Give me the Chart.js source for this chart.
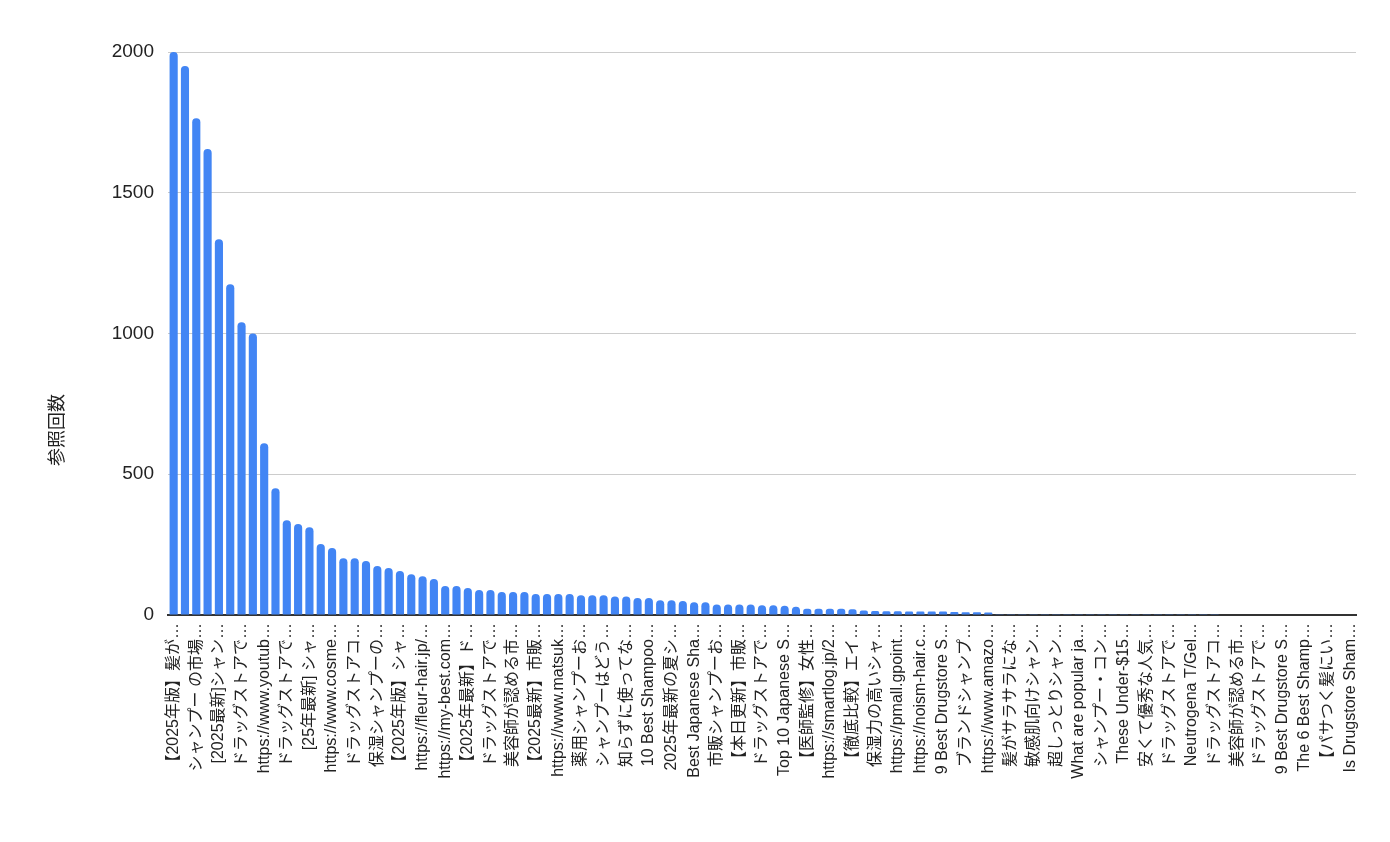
<!DOCTYPE html>
<html>
<head>
<meta charset="utf-8">
<script src="https://cdn.jsdelivr.net/npm/chart.js@4"></script>
<style>
  html, body { margin: 0; padding: 0; background: #fff; }
  #wrap { width: 1390px; height: 842px; }
</style>
</head>
<body>
<div id="wrap"><canvas id="chart"></canvas></div>
<script>
// Every second category label is shown on the axis
const shownLabels = [
  '【2025年版】髪が…', 'シャンプー の市場…', '[2025最新]シャン…', 'ドラッグストアで…',
  'https://www.youtub…', 'ドラッグストアで…', '[25年最新] シャ…', 'https://www.cosme…',
  'ドラッグストアコ…', '保湿シャンプーの…', '【2025年版】シャ…', 'https://fleur-hair.jp/…',
  'https://my-best.com…', '【2025年最新】ド…', 'ドラッグストアで…', '美容師が認める市…',
  '【2025最新】市販…', 'https://www.matsuk…', '薬用シャンプーお…', 'シャンプーはどう…',
  '知らずに使ってな…', '10 Best Shampoo…', '2025年最新の夏シ…', 'Best Japanese Sha…',
  '市販シャンプーお…', '【本日更新】市販…', 'ドラッグストアで…', 'Top 10 Japanese S…',
  '【医師監修】女性…', 'https://smartlog.jp/2…', '【徹底比較】エイ…', '保湿力の高いシャ…',
  'https://pmall.gpoint…', 'https://noism-hair.c…', '9 Best Drugstore S…', 'ブランドシャンプ…',
  'https://www.amazo…', '髪がサラサラにな…', '敏感肌向けシャン…', '超しっとりシャン…',
  'What are popular ja…', 'シャンプー・コン…', 'These Under-$15…', '安くて優秀な人気…',
  'ドラッグストアで…', 'Neutrogena T/Gel…', 'ドラッグストアコ…', '美容師が認める市…',
  'ドラッグストアで…', '9 Best Drugstore S…', 'The 6 Best Shamp…', '【パサつく髪にい…',
  'Is Drugstore Sham…'
];

const refCounts = [
  2000, 1950, 1765, 1655, 1335, 1175, 1040, 1000, 610, 450,
  337, 323, 312, 252, 238, 202, 202, 192, 174, 167,
  156, 145, 138, 128, 103, 103, 96, 89, 89, 82,
  82, 82, 75, 75, 75, 75, 70, 70, 70, 66,
  66, 60, 60, 52, 52, 50, 45, 45, 37, 37,
  37, 37, 35, 35, 33, 29, 22, 22, 22, 22,
  20, 16, 14, 13, 13, 12, 12, 12, 12, 11,
  10, 10, 9, 3, 3, 3, 3, 3, 3, 3,
  3, 3, 3, 3, 3, 3, 3, 3, 3, 3,
  3, 3, 3, 0, 0, 0, 0, 0, 0, 0,
  0, 0, 0, 0, 0
];

const yTicks = [0, 500, 1000, 1500, 2000];
const yTitle = '参照回数';

// build full label list: shown labels on even bars, blanks between
const labels = refCounts.map((v, i) => (i % 2 === 0 ? shownLabels[i / 2] || '' : ''));

// y title sits lower than the plot centre in the original
const yTitlePlugin = {
  id: 'yTitle',
  afterDraw(chart) {
    const ctx = chart.ctx;
    ctx.save();
    ctx.translate(56, 430);
    ctx.rotate(-Math.PI / 2);
    ctx.fillStyle = '#222';
    ctx.font = '18px "Noto Sans CJK JP"';
    ctx.textAlign = 'center';
    ctx.textBaseline = 'middle';
    ctx.fillText(yTitle, 0, 0);
    ctx.restore();
  }
};

new Chart(document.getElementById('chart'), {
  type: 'bar',
  data: {
    labels: labels,
    datasets: [{
      label: yTitle,
      data: refCounts,
      backgroundColor: '#4285f4',
      borderRadius: 4,
      borderSkipped: 'bottom',
      barPercentage: 0.72,
      categoryPercentage: 1.0
    }]
  },
  plugins: [yTitlePlugin],
  options: {
    responsive: true,
    maintainAspectRatio: false,
    animation: false,
    layout: { padding: { top: 52, right: 34, left: 0, bottom: 0 } },
    plugins: { legend: { display: false }, tooltip: { enabled: false } },
    scales: {
      x: {
        grid: { display: false, drawTicks: false },
        border: { color: '#333', width: 2 },
        ticks: {
          autoSkip: false,
          minRotation: 90,
          maxRotation: 90,
          padding: 8,
          color: '#222',
          font: { family: 'Liberation Sans, Noto Sans CJK JP', size: 16 }
        },
        afterFit: (scale) => { scale.height = 227; }
      },
      y: {
        min: 0,
        max: 2000,
        afterBuildTicks: (scale) => { scale.ticks = yTicks.map(v => ({ value: v })); },
        grid: { color: '#cccccc', drawTicks: false },
        border: { display: false },
        ticks: {
          padding: 14,
          color: '#222',
          callback: (v) => String(v),
          font: { family: 'Liberation Sans', size: 19 }
        },
        afterFit: (scale) => { scale.width = 168; }
      }
    }
  }
});
</script>
</body>
</html>
